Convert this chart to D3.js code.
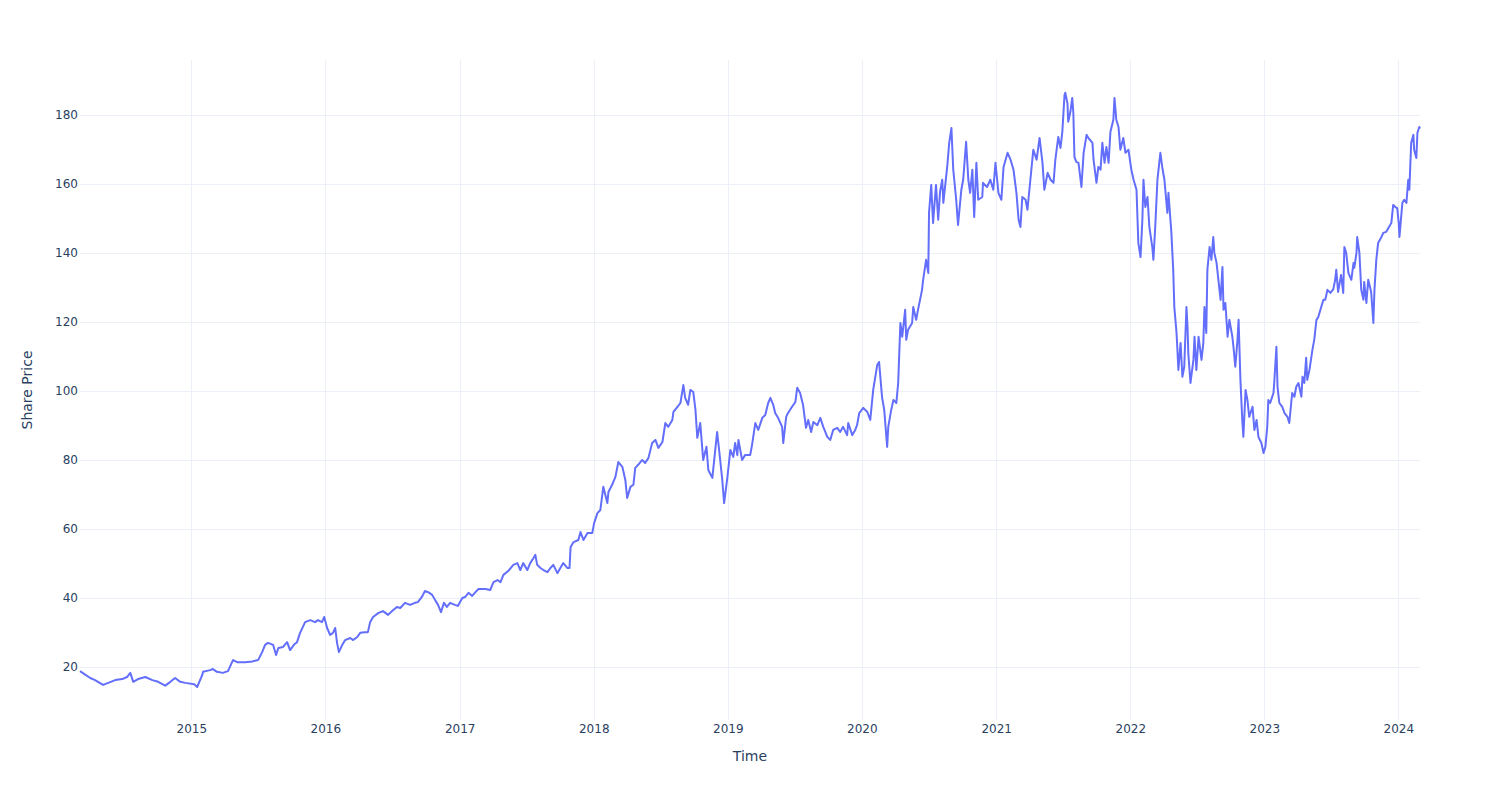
<!DOCTYPE html>
<html><head><meta charset="utf-8">
<script src="https://cdn.jsdelivr.net/npm/d3@7"></script>
<style>body{margin:0;background:#fff}svg{display:block}</style>
</head><body><svg id="chart" width="1500" height="800"></svg>
<script>
const dates = [
"2014-03-04","2014-03-15","2014-04-01","2014-04-14","2014-04-22","2014-05-06","2014-05-20","2014-06-08","2014-06-27","2014-07-10","2014-07-19","2014-07-27","2014-08-09","2014-08-29","2014-09-17","2014-10-03","2014-10-22","2014-11-05","2014-11-18","2014-12-02","2014-12-16",
"2015-01-09","2015-01-17","2015-01-31","2015-02-02","2015-02-21","2015-03-01","2015-03-12","2015-03-28","2015-04-11","2015-04-22","2015-04-25","2015-05-06","2015-05-28","2015-06-16","2015-07-02","2015-07-13","2015-07-21","2015-07-29","2015-08-12","2015-08-20","2015-08-26","2015-09-08","2015-09-19","2015-09-27","2015-10-08","2015-10-16","2015-10-24","2015-11-07","2015-11-21","2015-12-04","2015-12-12","2015-12-23","2015-12-29",
"2016-01-06","2016-01-14","2016-01-22","2016-01-28","2016-02-02","2016-02-07","2016-02-16","2016-02-24","2016-03-09","2016-03-17","2016-03-28","2016-04-05","2016-04-18","2016-04-26","2016-05-02","2016-05-10","2016-05-24","2016-06-06","2016-06-20","2016-07-01","2016-07-14","2016-07-23","2016-08-05","2016-08-19","2016-09-01","2016-09-09","2016-09-20","2016-09-28","2016-10-07","2016-10-18","2016-10-26","2016-11-03","2016-11-11","2016-11-19","2016-11-27","2016-12-06","2016-12-19","2016-12-27",
"2017-01-08","2017-01-16","2017-01-25","2017-02-04","2017-02-13","2017-02-21","2017-03-12","2017-03-25","2017-04-03","2017-04-14","2017-04-22","2017-04-30","2017-05-13","2017-05-27","2017-06-07","2017-06-15","2017-06-23","2017-07-04","2017-07-12","2017-07-21","2017-07-26","2017-07-31","2017-08-09","2017-08-17","2017-08-28","2017-09-05","2017-09-13","2017-09-24","2017-10-02","2017-10-10","2017-10-21","2017-10-27","2017-10-30","2017-11-07","2017-11-20","2017-11-26","2017-12-04","2017-12-15","2017-12-28",
"2018-01-02","2018-01-11","2018-01-19","2018-01-27","2018-02-07","2018-02-10","2018-02-20","2018-03-01","2018-03-09","2018-03-20","2018-03-28","2018-04-02","2018-04-11","2018-04-19","2018-04-24","2018-05-02","2018-05-13","2018-05-21","2018-05-30","2018-06-09","2018-06-18","2018-06-26","2018-07-07","2018-07-15","2018-07-23","2018-08-03","2018-08-06","2018-08-17","2018-08-25","2018-09-02","2018-09-07","2018-09-15","2018-09-21","2018-09-29","2018-10-05","2018-10-10","2018-10-18","2018-10-26","2018-11-04","2018-11-09","2018-11-20","2018-11-25","2018-12-03","2018-12-09","2018-12-17","2018-12-22","2018-12-31",
"2019-01-08","2019-01-16","2019-01-21","2019-01-27","2019-01-30","2019-02-09","2019-02-17","2019-03-03","2019-03-08","2019-03-17","2019-03-25","2019-04-05","2019-04-13","2019-04-21","2019-04-27","2019-05-05","2019-05-10","2019-05-18","2019-05-29","2019-06-01","2019-06-09","2019-06-14","2019-06-25","2019-07-04","2019-07-09","2019-07-17","2019-07-25","2019-08-02","2019-08-08","2019-08-16","2019-08-22","2019-09-02","2019-09-10","2019-09-18","2019-09-29","2019-10-07","2019-10-15","2019-10-26","2019-11-03","2019-11-11","2019-11-22","2019-11-25","2019-12-06","2019-12-14","2019-12-19","2019-12-25",
"2020-01-05","2020-01-16","2020-01-24","2020-02-01","2020-02-12","2020-02-17","2020-02-25","2020-03-02","2020-03-10","2020-03-13","2020-03-21","2020-03-27","2020-04-04","2020-04-09","2020-04-15","2020-04-20","2020-04-28","2020-05-01","2020-05-06","2020-05-17","2020-05-20","2020-05-28","2020-06-02","2020-06-13","2020-06-16","2020-06-24","2020-06-30","2020-07-02","2020-07-08","2020-07-13","2020-07-21","2020-07-27","2020-08-01","2020-08-07","2020-08-10","2020-08-21","2020-08-26","2020-09-01","2020-09-06","2020-09-14","2020-09-19","2020-09-28","2020-10-03","2020-10-11","2020-10-17","2020-10-22","2020-10-28","2020-11-02","2020-11-08","2020-11-13","2020-11-24","2020-11-26","2020-12-07","2020-12-16","2020-12-24","2020-12-30",
"2021-01-07","2021-01-15","2021-01-21","2021-02-01","2021-02-09","2021-02-17","2021-02-25","2021-03-03","2021-03-08","2021-03-13","2021-03-22","2021-03-27","2021-04-04","2021-04-12","2021-04-21","2021-04-29","2021-05-07","2021-05-12","2021-05-21","2021-05-29","2021-06-06","2021-06-11","2021-06-19","2021-06-25","2021-06-30","2021-07-06","2021-07-08","2021-07-14","2021-07-16","2021-07-22","2021-07-27","2021-07-30","2021-08-02","2021-08-07","2021-08-13","2021-08-21","2021-08-27","2021-09-04","2021-09-09","2021-09-20","2021-09-23","2021-10-01","2021-10-06","2021-10-12","2021-10-17","2021-10-23","2021-10-28","2021-11-03","2021-11-08","2021-11-16","2021-11-19","2021-11-24","2021-11-30","2021-12-05","2021-12-13","2021-12-19","2021-12-27",
"2022-01-04","2022-01-10","2022-01-18","2022-01-23","2022-01-29","2022-02-03","2022-02-06","2022-02-11","2022-02-17","2022-02-22","2022-03-02","2022-03-05","2022-03-10","2022-03-16","2022-03-24","2022-03-29","2022-04-04","2022-04-12","2022-04-15","2022-04-23","2022-04-28","2022-05-01","2022-05-07","2022-05-09","2022-05-12","2022-05-18","2022-05-23","2022-05-28","2022-06-03","2022-06-06","2022-06-08","2022-06-14","2022-06-22","2022-06-25","2022-06-30","2022-07-06","2022-07-14","2022-07-19","2022-07-22","2022-07-27","2022-07-30","2022-08-05","2022-08-10","2022-08-15","2022-08-18","2022-08-24","2022-08-29","2022-09-04","2022-09-09","2022-09-12","2022-09-17","2022-09-23","2022-09-28","2022-10-06","2022-10-09","2022-10-14","2022-10-20","2022-10-23","2022-10-28","2022-11-02","2022-11-05","2022-11-11","2022-11-16","2022-11-21","2022-11-30","2022-12-05","2022-12-11","2022-12-16","2022-12-24","2022-12-30",
"2023-01-04","2023-01-09","2023-01-12","2023-01-17","2023-01-26","2023-01-28","2023-02-03","2023-02-06","2023-02-11","2023-02-19","2023-02-25","2023-03-05","2023-03-10","2023-03-18","2023-03-24","2023-03-29","2023-04-04","2023-04-12","2023-04-15","2023-04-20","2023-04-25","2023-04-28","2023-05-04","2023-05-12","2023-05-17","2023-05-23","2023-05-28","2023-06-05","2023-06-11","2023-06-16","2023-06-22","2023-06-30","2023-07-08","2023-07-13","2023-07-16","2023-07-21","2023-07-29","2023-08-04","2023-08-07","2023-08-12","2023-08-18","2023-08-26","2023-09-01","2023-09-03","2023-09-09","2023-09-11","2023-09-17","2023-09-22","2023-09-28","2023-09-30","2023-10-06","2023-10-11","2023-10-19","2023-10-25","2023-10-28","2023-11-02","2023-11-07","2023-11-16","2023-11-21","2023-11-29","2023-12-05","2023-12-13","2023-12-18","2023-12-24","2023-12-29",
"2024-01-02","2024-01-04","2024-01-12","2024-01-17","2024-01-23","2024-01-28","2024-01-31","2024-02-05","2024-02-11","2024-02-13","2024-02-19","2024-02-22","2024-02-27","2024-02-29"
];
const prices = [
18.8,18.0,16.8,16.2,15.7,14.8,15.4,16.2,16.5,17.1,18.3,15.7,16.5,17.1,16.2,15.7,14.6,15.7,16.8,15.7,15.4,
15.0,14.2,17.7,18.6,19.1,19.4,18.6,18.3,18.8,21.4,22.0,21.4,21.4,21.6,22.0,24.3,26.4,27.0,26.4,23.5,25.5,25.8,27.2,24.9,26.5,27.2,29.8,33.0,33.6,33.0,33.6,33.0,34.5,
31.3,29.3,29.9,31.3,27.0,24.3,26.4,27.8,28.4,27.8,28.7,29.9,30.1,30.1,33.0,34.5,35.6,36.2,35.1,36.2,37.4,37.1,38.6,38.0,38.6,38.8,40.3,42.0,41.7,40.9,39.4,38.0,35.9,38.6,37.4,38.6,38.0,37.7,
40.0,40.3,41.5,40.6,41.7,42.6,42.6,42.3,44.6,45.2,44.6,46.7,47.8,49.6,50.1,48.1,50.1,48.1,50.1,51.6,52.5,49.6,48.7,48.1,47.5,48.7,49.6,47.2,48.7,50.1,48.7,48.7,54.8,56.2,56.8,59.1,56.8,58.8,58.8,
61.7,64.6,65.5,72.2,67.5,70.7,72.8,75.1,79.4,78.0,74.2,69.0,72.2,72.8,77.7,78.6,80.0,79.1,80.6,84.9,85.8,83.5,85.2,90.7,89.6,91.6,93.9,95.4,96.5,101.7,98.0,96.0,100.3,99.7,94.5,86.4,90.7,80.0,83.8,77.1,74.8,80.0,88.1,82.3,74.2,67.5,75.0,
82.9,80.9,84.9,81.4,85.8,80.0,81.4,81.4,84.3,90.7,88.7,92.2,93.0,96.5,98.0,95.9,93.6,92.2,89.6,84.9,92.5,93.6,95.4,96.8,100.9,99.4,95.9,89.3,91.6,88.1,91.0,90.1,92.2,89.6,86.7,85.8,88.7,89.3,88.1,89.6,87.2,90.7,87.2,88.7,90.1,93.6,
95.1,93.9,91.6,100.3,107.5,108.4,98.3,94.5,83.8,89.6,94.5,97.4,96.5,102.3,119.7,115.7,123.5,114.8,117.7,119.7,124.3,120.6,123.5,129.3,132.2,138.0,134.2,151.6,159.7,148.7,159.7,149.6,157.7,161.2,154.5,165.5,171.9,176.2,164.1,155.4,148.1,158.3,161.2,172.2,161.2,157.4,164.1,150.4,166.1,155.4,156.2,160.3,159.1,161.2,158.3,166.1,
157.4,155.4,164.9,169.0,167.0,164.1,157.4,149.6,147.5,156.2,155.4,152.5,161.2,169.9,167.0,173.3,166.1,158.3,163.2,161.2,160.3,167.0,173.6,170.4,175.1,185.8,186.4,183.3,178.0,180.9,184.9,180.6,167.8,166.4,166.1,159.1,169.0,174.2,173.3,171.9,167.0,160.3,164.9,164.1,171.9,166.1,170.7,166.1,175.1,178.6,184.9,178.6,176.5,169.9,173.3,169.0,169.9,
164.1,161.2,158.3,142.9,138.8,149.6,161.2,153.3,156.2,147.5,141.7,138.0,147.5,161.2,169.0,164.9,161.2,151.6,157.4,145.8,135.0,124.3,116.8,112.8,106.1,113.9,104.1,107.0,124.3,118.6,111.0,102.3,109.0,115.7,106.1,115.7,109.0,113.9,124.3,116.8,135.1,141.7,138.0,144.6,140.0,137.1,132.2,126.4,135.9,123.5,125.5,115.7,120.6,115.7,112.8,107.0,114.8,120.6,103.2,91.6,86.7,100.3,97.4,92.5,95.4,88.7,91.6,86.7,84.9,82.0,
83.8,89.6,97.4,96.5,99.4,102.3,112.8,101.2,96.5,95.4,93.6,92.5,90.7,99.4,98.3,101.2,102.3,98.3,104.1,102.3,109.6,103.2,106.1,111.9,114.8,120.6,121.4,124.3,126.4,126.4,129.3,128.4,129.5,132.2,135.1,128.7,133.6,128.4,141.7,140.0,134.2,132.2,137.1,135.7,140.0,144.6,140.0,129.3,126.4,131.6,125.5,132.2,128.7,119.7,129.3,138.0,142.9,144.6,145.8,146.1,147.2,148.7,153.9,153.3,153.0,
148.7,144.6,154.5,155.4,154.5,161.2,158.3,171.9,174.2,169.9,167.5,174.8,176.5,176.0
];
const yTickValues = [20, 40, 60, 80, 100, 120, 140, 160, 180];
const xTickYears = ["2015","2016","2017","2018","2019","2020","2021","2022","2023","2024"];
const xTitle = "Time";
const yTitle = "Share Price";

const W = 1500, H = 800;
const m = {l: 80, r: 80, t: 60, b: 80};
const FONT = '"DejaVu Sans", verdana, arial, sans-serif';
const TXT = "#2a3f5f", GRID = "#EBF0F8", LINE = "#636efa";

const parse = d3.timeParse("%Y-%m-%d");
const data = dates.map((d, i) => ({date: parse(d), value: prices[i]}));

const x = d3.scaleTime().domain(d3.extent(data, d => d.date)).range([m.l, W - m.r]);
const y = d3.scaleLinear().domain([4.64, 195.9]).range([H - m.b, m.t]);

const svg = d3.select("#chart");
svg.append("rect").attr("width", W).attr("height", H).attr("fill", "#fff");

const xTicks = xTickYears.map(s => parse(s + "-01-01"));

// grid
svg.append("g").selectAll("line").data(xTicks).join("line")
  .attr("x1", d => Math.round(x(d)) + 0.5).attr("x2", d => Math.round(x(d)) + 0.5)
  .attr("y1", m.t).attr("y2", H - m.b)
  .attr("stroke", GRID).attr("stroke-width", 1);
svg.append("g").selectAll("line").data(yTickValues).join("line")
  .attr("x1", m.l).attr("x2", W - m.r)
  .attr("y1", d => Math.round(y(d)) + 0.5).attr("y2", d => Math.round(y(d)) + 0.5)
  .attr("stroke", GRID).attr("stroke-width", 1);

// axes
const gx = svg.append("g").attr("transform", `translate(0,${H - m.b})`)
  .call(d3.axisBottom(x).tickValues(xTicks).tickFormat(d3.timeFormat("%Y")).tickSize(0).tickPadding(4));
const gy = svg.append("g").attr("transform", `translate(${m.l},0)`)
  .call(d3.axisLeft(y).tickValues(yTickValues).tickSize(0).tickPadding(2));
[gx, gy].forEach(g => {
  g.select(".domain").remove();
  g.selectAll("text").attr("fill", TXT).style("font-family", FONT).style("font-size", "12px");
});

// line
svg.append("path").datum(data)
  .attr("fill", "none").attr("stroke", LINE).attr("stroke-width", 2)
  .attr("stroke-linejoin", "round")
  .attr("d", d3.line().x(d => x(d.date)).y(d => y(d.value)));

// titles
svg.append("text").attr("x", (m.l + W - m.r) / 2).attr("y", 761)
  .attr("text-anchor", "middle").attr("fill", TXT)
  .style("font-family", FONT).style("font-size", "14px").text(xTitle);
svg.append("text").attr("transform", `translate(32,${(m.t + H - m.b) / 2}) rotate(-90)`)
  .attr("text-anchor", "middle").attr("fill", TXT)
  .style("font-family", FONT).style("font-size", "14px").text(yTitle);
</script>
</body></html>
